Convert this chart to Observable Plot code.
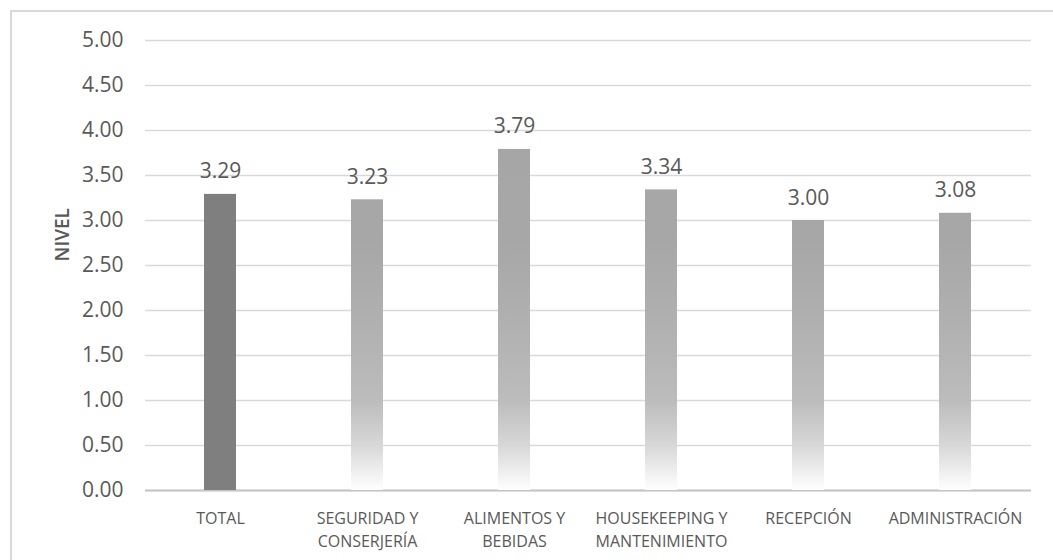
<!DOCTYPE html>
<html>
<head>
<meta charset="utf-8">
<script src="https://cdn.jsdelivr.net/npm/d3@7"></script>
<script src="https://cdn.jsdelivr.net/npm/@observablehq/plot@0.6"></script>
<style>
  html, body { margin: 0; padding: 0; background: #fff; }
  #wrap { position: relative; width: 1053px; height: 560px; overflow: hidden; }
  #edge { position: absolute; left: 10px; top: 10px; right: -4px; bottom: -4px;
          border-left: 2px solid #d9d9d9; border-top: 2px solid #d9d9d9; pointer-events: none; }
  svg { display: block; }
</style>
</head>
<body>
<div id="wrap"><div id="edge"></div></div>
<script>
// Areas of the hotel and their average level
const areas = ["TOTAL", "SEGURIDAD Y\nCONSERJERÍA", "ALIMENTOS Y\nBEBIDAS", "HOUSEKEEPING Y\nMANTENIMIENTO", "RECEPCIÓN", "ADMINISTRACIÓN"];
const levels = [3.29, 3.23, 3.79, 3.34, 3.00, 3.08];
const yTicks = [0, 0.5, 1, 1.5, 2, 2.5, 3, 3.5, 4, 4.5, 5];
const yTitle = "NIVEL";

const rows = areas.map((area, i) => ({area, level: levels[i]}));
const totalRow = rows.filter(d => d.area === "TOTAL");
const areaRows = rows.filter(d => d.area !== "TOTAL");

const textColor = "#595959";

// Vertical fade used by the area bars: solid gray above, dissolving into white near zero
function fadeDefs(index, {y}) {
  const ns = "http://www.w3.org/2000/svg";
  const defs = document.createElementNS(ns, "defs");
  const grad = document.createElementNS(ns, "linearGradient");
  grad.setAttribute("id", "fade");
  grad.setAttribute("gradientUnits", "userSpaceOnUse");
  grad.setAttribute("x1", 0); grad.setAttribute("x2", 0);
  grad.setAttribute("y1", y(5)); grad.setAttribute("y2", y(0));
  [[0, "#a5a5a5"], [0.45, "#a7a7a7"], [0.64, "#b1b1b1"], [0.8, "#bcbcbc"],
   [0.9, "#d7d7d7"], [0.96, "#efefef"], [1, "#ffffff"]].forEach(([o, c]) => {
    const s = document.createElementNS(ns, "stop");
    s.setAttribute("offset", o);
    s.setAttribute("stop-color", c);
    grad.appendChild(s);
  });
  defs.appendChild(grad);
  return defs;
}

const chart = Plot.plot({
  width: 1053,
  height: 560,
  marginLeft: 145,
  marginRight: 22,
  marginTop: 40,
  marginBottom: 70,
  style: {fontFamily: "'Open Sans', sans-serif", color: textColor, background: "transparent"},
  x: {domain: areas, paddingInner: 0.78, paddingOuter: 0.39, label: null},
  y: {domain: [0, 5], label: null},
  marks: [
    fadeDefs,
    Plot.gridY(yTicks, {stroke: "#d9d9d9", strokeOpacity: 1, strokeWidth: 1.6}),
    Plot.ruleY([0], {stroke: "#c4c4c4", strokeWidth: 2}),
    Plot.barY(totalRow, {x: "area", y: "level", fill: "#7f7f7f"}),
    Plot.barY(areaRows, {x: "area", y: "level", fill: "url(#fade)"}),
    Plot.text(rows, {x: "area", y: "level", text: d => d.level.toFixed(2),
      lineAnchor: "bottom", dy: -16, fontSize: 21, fill: textColor}),
    Plot.axisY({ticks: yTicks, tickFormat: d => d.toFixed(2), tickSize: 0, tickPadding: 22,
      fontSize: 21, fill: textColor, label: null}),
    Plot.axisX({tickSize: 0, tickPadding: 17, fontSize: 16, lineHeight: 1.45, fill: textColor,
      label: null}),
    // y axis title, rotated beside the tick labels
    Plot.text([yTitle], {frameAnchor: "left", text: d => d, rotate: -90, dx: -83, dy: -4,
      fontSize: 19, fontWeight: 600, fill: textColor})
  ]
});

document.getElementById("wrap").insertBefore(chart, document.getElementById("edge"));
</script>
</body>
</html>
